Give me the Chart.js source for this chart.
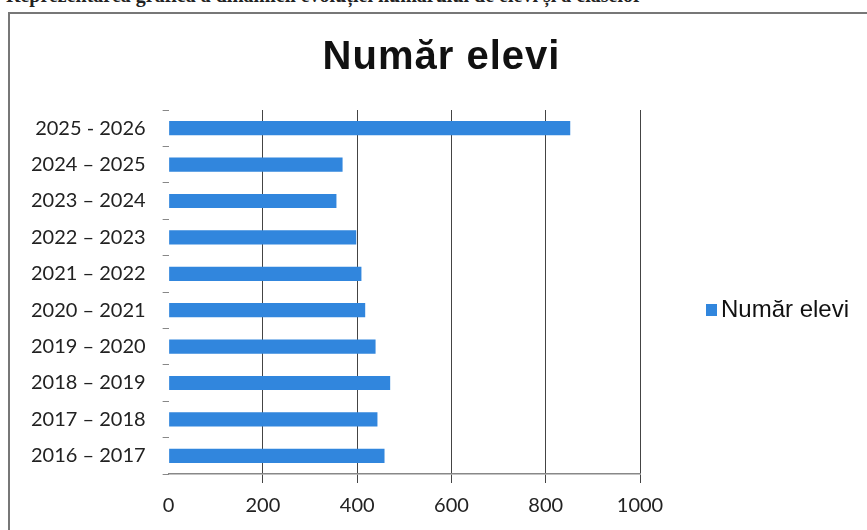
<!DOCTYPE html>
<html>
<head>
<meta charset="utf-8">
<script src="https://cdn.jsdelivr.net/npm/chart.js@4/dist/chart.umd.min.js"></script>
<style>
  html, body { margin: 0; padding: 0; background: #fff; }
  #wrap { position: relative; width: 867px; height: 530px; overflow: hidden; }
  #doc { position: absolute; left: 6px; top: -16px; white-space: nowrap;
         font: bold 20px "Liberation Serif", serif; color: #222; }
  #frame { position: absolute; left: 8px; top: 12px; width: 900px; height: 600px;
           border-left: 2px solid #777; border-top: 2px solid #777; }
  canvas { position: absolute; left: 0; top: 0; }
</style>
</head>
<body>
<div id="wrap">
  <div id="doc">Reprezentarea grafică a dinamicii evoluției numărului de elevi și a claselor</div>
  <div id="frame"></div>
  <canvas id="c" width="867" height="530"></canvas>
</div>
<script>
// school years, oldest first (axis is reversed so the newest sits on top)
const years = ['2016 \u2013 2017', '2017 \u2013 2018', '2018 \u2013 2019', '2019 \u2013 2020', '2020 \u2013 2021',
               '2021 \u2013 2022', '2022 \u2013 2023', '2023 \u2013 2024', '2024 \u2013 2025', '2025 - 2026'];
const students = [458, 443, 470, 439, 417, 409, 398, 356, 369, 852];
const seriesName = 'Număr elevi';
const xTicks = [0, 200, 400, 600, 800, 1000];

// title centred on the whole frame and legend to the right of the plot, like the Excel one
const excelDecor = {
  id: 'excelDecor',
  afterDraw(chart) {
    const { ctx, chartArea } = chart;
    const ds = chart.data.datasets[0];
    ctx.save();
    ctx.fillStyle = '#111';
    ctx.font = 'bold 40px "Liberation Sans"';
    ctx.letterSpacing = '1px';
    ctx.textAlign = 'center';
    ctx.textBaseline = 'middle';
    ctx.fillText(seriesName, chart.width / 2 + 8, 58);
    ctx.letterSpacing = '0px';

    const x = chartArea.right + 66;
    const y = (chartArea.top + chartArea.bottom) / 2 + 18;
    ctx.fillStyle = ds.backgroundColor;
    ctx.fillRect(x, y - 6, 11, 12);
    ctx.fillStyle = '#111';
    ctx.font = '24px "Liberation Sans"';
    ctx.textAlign = 'left';
    ctx.fillText(ds.label, x + 15, y);
    ctx.restore();
  },
};

const ctx = document.getElementById('c');
new Chart(ctx, {
  type: 'bar',
  data: {
    labels: years,
    datasets: [{
      label: seriesName,
      data: students,
      backgroundColor: '#3186dd',
      borderWidth: 0,
      barPercentage: 0.39,
      categoryPercentage: 1,
    }],
  },
  plugins: [excelDecor],
  options: {
    indexAxis: 'y',
    responsive: false,
    animation: false,
    layout: { padding: { left: 14, right: 227, top: 110, bottom: 1 } },
    plugins: {
      title: { display: false },
      legend: { display: false },
      tooltip: { enabled: false },
    },
    scales: {
      x: {
        min: 0,
        max: 1000,
        afterBuildTicks: (axis) => { axis.ticks = xTicks.map(v => ({ value: v })); },
        grid: {
          color: (c) => c.tick && c.tick.value === 0 ? 'rgba(0,0,0,0)' : '#444',
          lineWidth: 1,
          tickLength: 9,
        },
        border: { display: true, color: '#888', width: 1.5 },
        ticks: {
          color: '#222',
          padding: 11,
          font: { family: 'Lato', size: 20 },
          callback: (v) => String(v),
        },
      },
      y: {
        reverse: true,
        grid: {
          offset: true,
          drawOnChartArea: false,
          tickLength: 6,
          color: '#888',
        },
        border: { display: false },
        ticks: {
          color: '#222',
          padding: 17,
          font: { family: 'Lato', size: 20 },
        },
      },
    },
  },
});
</script>
</body>
</html>
